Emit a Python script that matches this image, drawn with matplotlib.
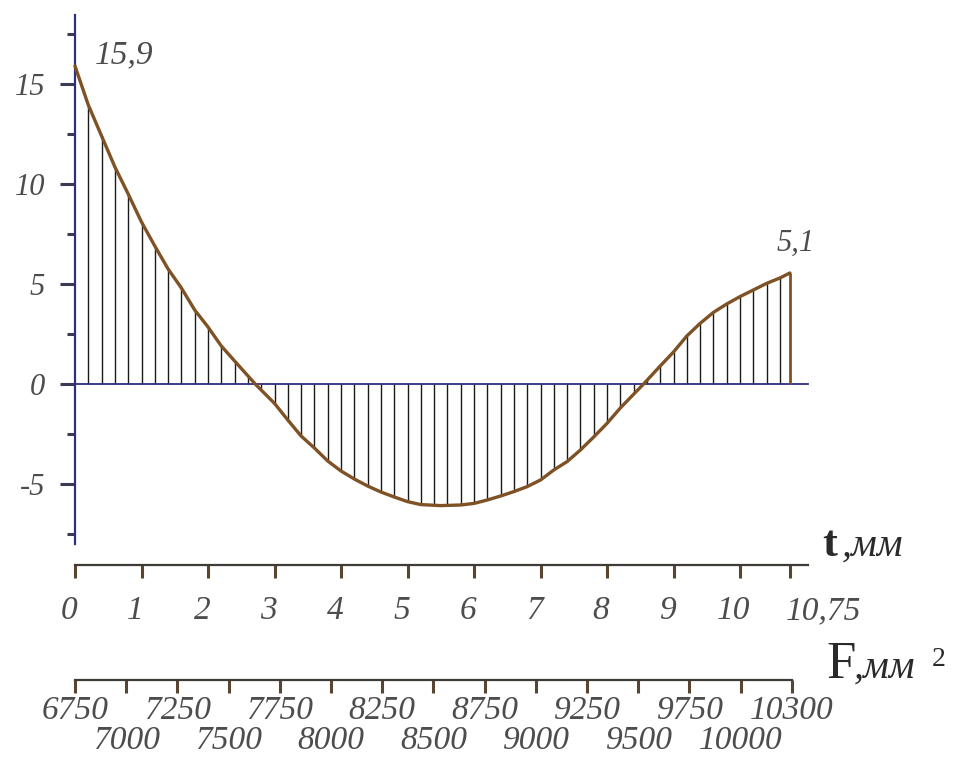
import numpy as np
import matplotlib
matplotlib.use("Agg")
import matplotlib.pyplot as plt
import matplotlib.transforms as mtransforms

# ---- data ----
t_vals = [0, 0.2, 0.4, 0.6, 0.8, 1.0, 1.2, 1.4, 1.6, 1.8, 2.0, 2.2, 2.4, 2.71,
          3.0, 3.2, 3.4, 3.6, 3.8, 4.0, 4.2, 4.4, 4.6, 4.8, 5.0, 5.2, 5.5, 5.8,
          6.0, 6.2, 6.4, 6.6, 6.8, 7.0, 7.2, 7.4, 7.6, 7.8, 8.0, 8.2, 8.55, 8.8,
          9.0, 9.2, 9.4, 9.6, 9.8, 10.0, 10.2, 10.4, 10.6, 10.75]
y_vals = [15.9, 13.95, 12.4, 10.85, 9.5, 8.1, 6.9, 5.75, 4.8, 3.7, 2.85, 1.9, 1.15, 0,
          -0.97, -1.8, -2.6, -3.2, -3.85, -4.35, -4.75, -5.1, -5.4, -5.65, -5.88, -6.03, -6.08, -6.05,
          -5.97, -5.8, -5.6, -5.38, -5.13, -4.8, -4.3, -3.88, -3.3, -2.65, -1.97, -1.2, 0, 0.9,
          1.6, 2.4, 3.03, 3.58, 4.0, 4.37, 4.7, 5.03, 5.3, 5.55]
y_major = [-5, 0, 5, 10, 15]
y_minor = [-7.5, -2.5, 2.5, 7.5, 12.5, 17.5]
t_ticks = [0, 1, 2, 3, 4, 5, 6, 7, 8, 9, 10, 10.75]
t_labels = ["0", "1", "2", "3", "4", "5", "6", "7", "8", "9", "10", "10,75"]
F_labels = ["6750", "7000", "7250", "7500", "7750", "8000", "8250", "8500",
            "8750", "9000", "9250", "9500", "9750", "10000", "10300"]
start_label = "15,9"
end_label = "5,1"

W, H = 979, 758
fig = plt.figure(figsize=(W / 100, H / 100), dpi=100)
fig.patch.set_facecolor("white")

SERIF = ["Liberation Serif", "DejaVu Serif"]
TXT = "#4d4d4d"
NAVY = "#2e2e80"
CURVE = "#7f5226"
TICKC = "#5a4630"

x0px, tpx = 75, 66.5     # t axis: t=0 at px 75, 66.5 px per unit
y0px, ypx = 384, 20.0    # y: 0 at px 384, 20 px per unit

ax = fig.add_axes([0, 0, 1, 1])
ax.set_xlim(-x0px / tpx, (W - x0px) / tpx)
ax.set_ylim(-(H - y0px) / ypx, y0px / ypx)
ax.patch.set_visible(False)

t = np.array(t_vals)
y = np.array(y_vals)

# hatching
th = np.arange(0.2, 10.65, 0.2)
ax.vlines(th, 0, np.interp(th, t, y), color="#1a1a1a", lw=1.0, zorder=2)
ax.vlines(t[-1], 0, y[-1], color=CURVE, lw=2.0, zorder=3)
ax.plot(t, y, color=CURVE, lw=2.4, zorder=4, solid_capstyle="round",
        solid_joinstyle="round")

for s in ["top", "right"]:
    ax.spines[s].set_visible(False)
ax.spines["left"].set_position(("data", 0))
ax.spines["left"].set_bounds(-8, 18.45)
ax.spines["left"].set_color(NAVY)
ax.spines["left"].set_linewidth(1.6)
ax.spines["bottom"].set_position(("data", 0))
ax.spines["bottom"].set_bounds(0, 11.02)
ax.spines["bottom"].set_color(NAVY)
ax.spines["bottom"].set_linewidth(1.3)
ax.set_xticks([])
ax.set_yticks(y_major)
ax.set_yticklabels([str(v) for v in y_major], fontsize=22, family=SERIF,
                   style="italic", color=TXT)
ax.set_yticks(y_minor, minor=True)
ax.tick_params(axis="y", which="major", direction="out", length=10.5, width=2.2,
               color="#3a3a55", pad=11)
ax.tick_params(axis="y", which="minor", direction="out", length=5.5, width=2.2,
               color="#3a3a55")

ax.text(t[0] + 0.3, y[0] + 0.55, start_label, fontsize=24, family=SERIF,
        style="italic", color=TXT, ha="left", va="center")
ax.text(t[-1] - 0.2, y[-1] + 1.5, end_label, fontsize=22, family=SERIF,
        style="italic", color=TXT, ha="left", va="center")

# ---- t axis ----
ax_t = fig.add_axes([0, (H - 565) / H, 1, 0.001])
ax_t.set_xlim(-x0px / tpx, (W - x0px) / tpx)
ax_t.patch.set_visible(False)
for s in ["top", "right", "left"]:
    ax_t.spines[s].set_visible(False)
ax_t.spines["bottom"].set_bounds(0, 11.02)
ax_t.spines["bottom"].set_color("#3e3a36")
ax_t.spines["bottom"].set_linewidth(1.6)
ax_t.set_yticks([])
ax_t.set_xticks(t_ticks)
ax_t.set_xticklabels(t_labels, fontsize=24, family=SERIF, style="italic", color=TXT)
ax_t.tick_params(axis="x", direction="out", length=9, width=2.2, color=TICKC, pad=13)
shift = mtransforms.ScaledTranslation(-6 / 100, 0, fig.dpi_scale_trans)
lbls = ax_t.get_xticklabels()
for lb in lbls[:-1]:
    lb.set_transform(lb.get_transform() + shift)
lbls[-1].set_ha("left")
lbls[-1].set_transform(lbls[-1].get_transform()
                       + mtransforms.ScaledTranslation(-4 / 100, 0, fig.dpi_scale_trans))

# ---- F axis ----
fpx = 51.2
ax_F = fig.add_axes([0, (H - 680) / H, 1, 0.001])
ax_F.set_xlim(-x0px / fpx, (W - x0px) / fpx)
ax_F.patch.set_visible(False)
for s in ["top", "right", "left"]:
    ax_F.spines[s].set_visible(False)
nF = len(F_labels)
ax_F.spines["bottom"].set_bounds(0, nF - 1)
ax_F.spines["bottom"].set_color("#3e3a36")
ax_F.spines["bottom"].set_linewidth(1.6)
ax_F.set_yticks([])
idx = np.arange(nF)
ax_F.set_xticks(idx[::2])
ax_F.set_xticklabels(F_labels[::2], fontsize=24, family=SERIF, style="italic", color=TXT)
ax_F.set_xticks(idx[1::2], minor=True)
ax_F.set_xticklabels(F_labels[1::2], minor=True, fontsize=24, family=SERIF,
                     style="italic", color=TXT)
ax_F.tick_params(axis="x", which="major", direction="out", length=9, width=2.2,
                 color=TICKC, pad=2)
ax_F.tick_params(axis="x", which="minor", direction="out", length=9, width=2.2,
                 color=TICKC, pad=24)

# ---- axis titles ----
def fx(px):
    return px / W

def fy(py):
    return 1 - py / H

fig.text(fx(822), fy(556), "t", fontsize=32, family=SERIF, color="#2a2a2a",
         ha="left", va="baseline", weight="bold")
fig.text(fx(842), fy(556), ",мм", fontsize=29, family=SERIF, style="italic",
         color="#2a2a2a", ha="left", va="baseline")
fig.text(fx(826), fy(678), "F", fontsize=38, family=SERIF, color="#2a2a2a",
         ha="left", va="baseline")
fig.text(fx(854), fy(678), ",мм", fontsize=29, family=SERIF, style="italic",
         color="#2a2a2a", ha="left", va="baseline")
fig.text(fx(932), fy(666), "2", fontsize=20, family=SERIF,
         color="#2a2a2a", ha="left", va="baseline")

fig.savefig("out.png", dpi=100)
